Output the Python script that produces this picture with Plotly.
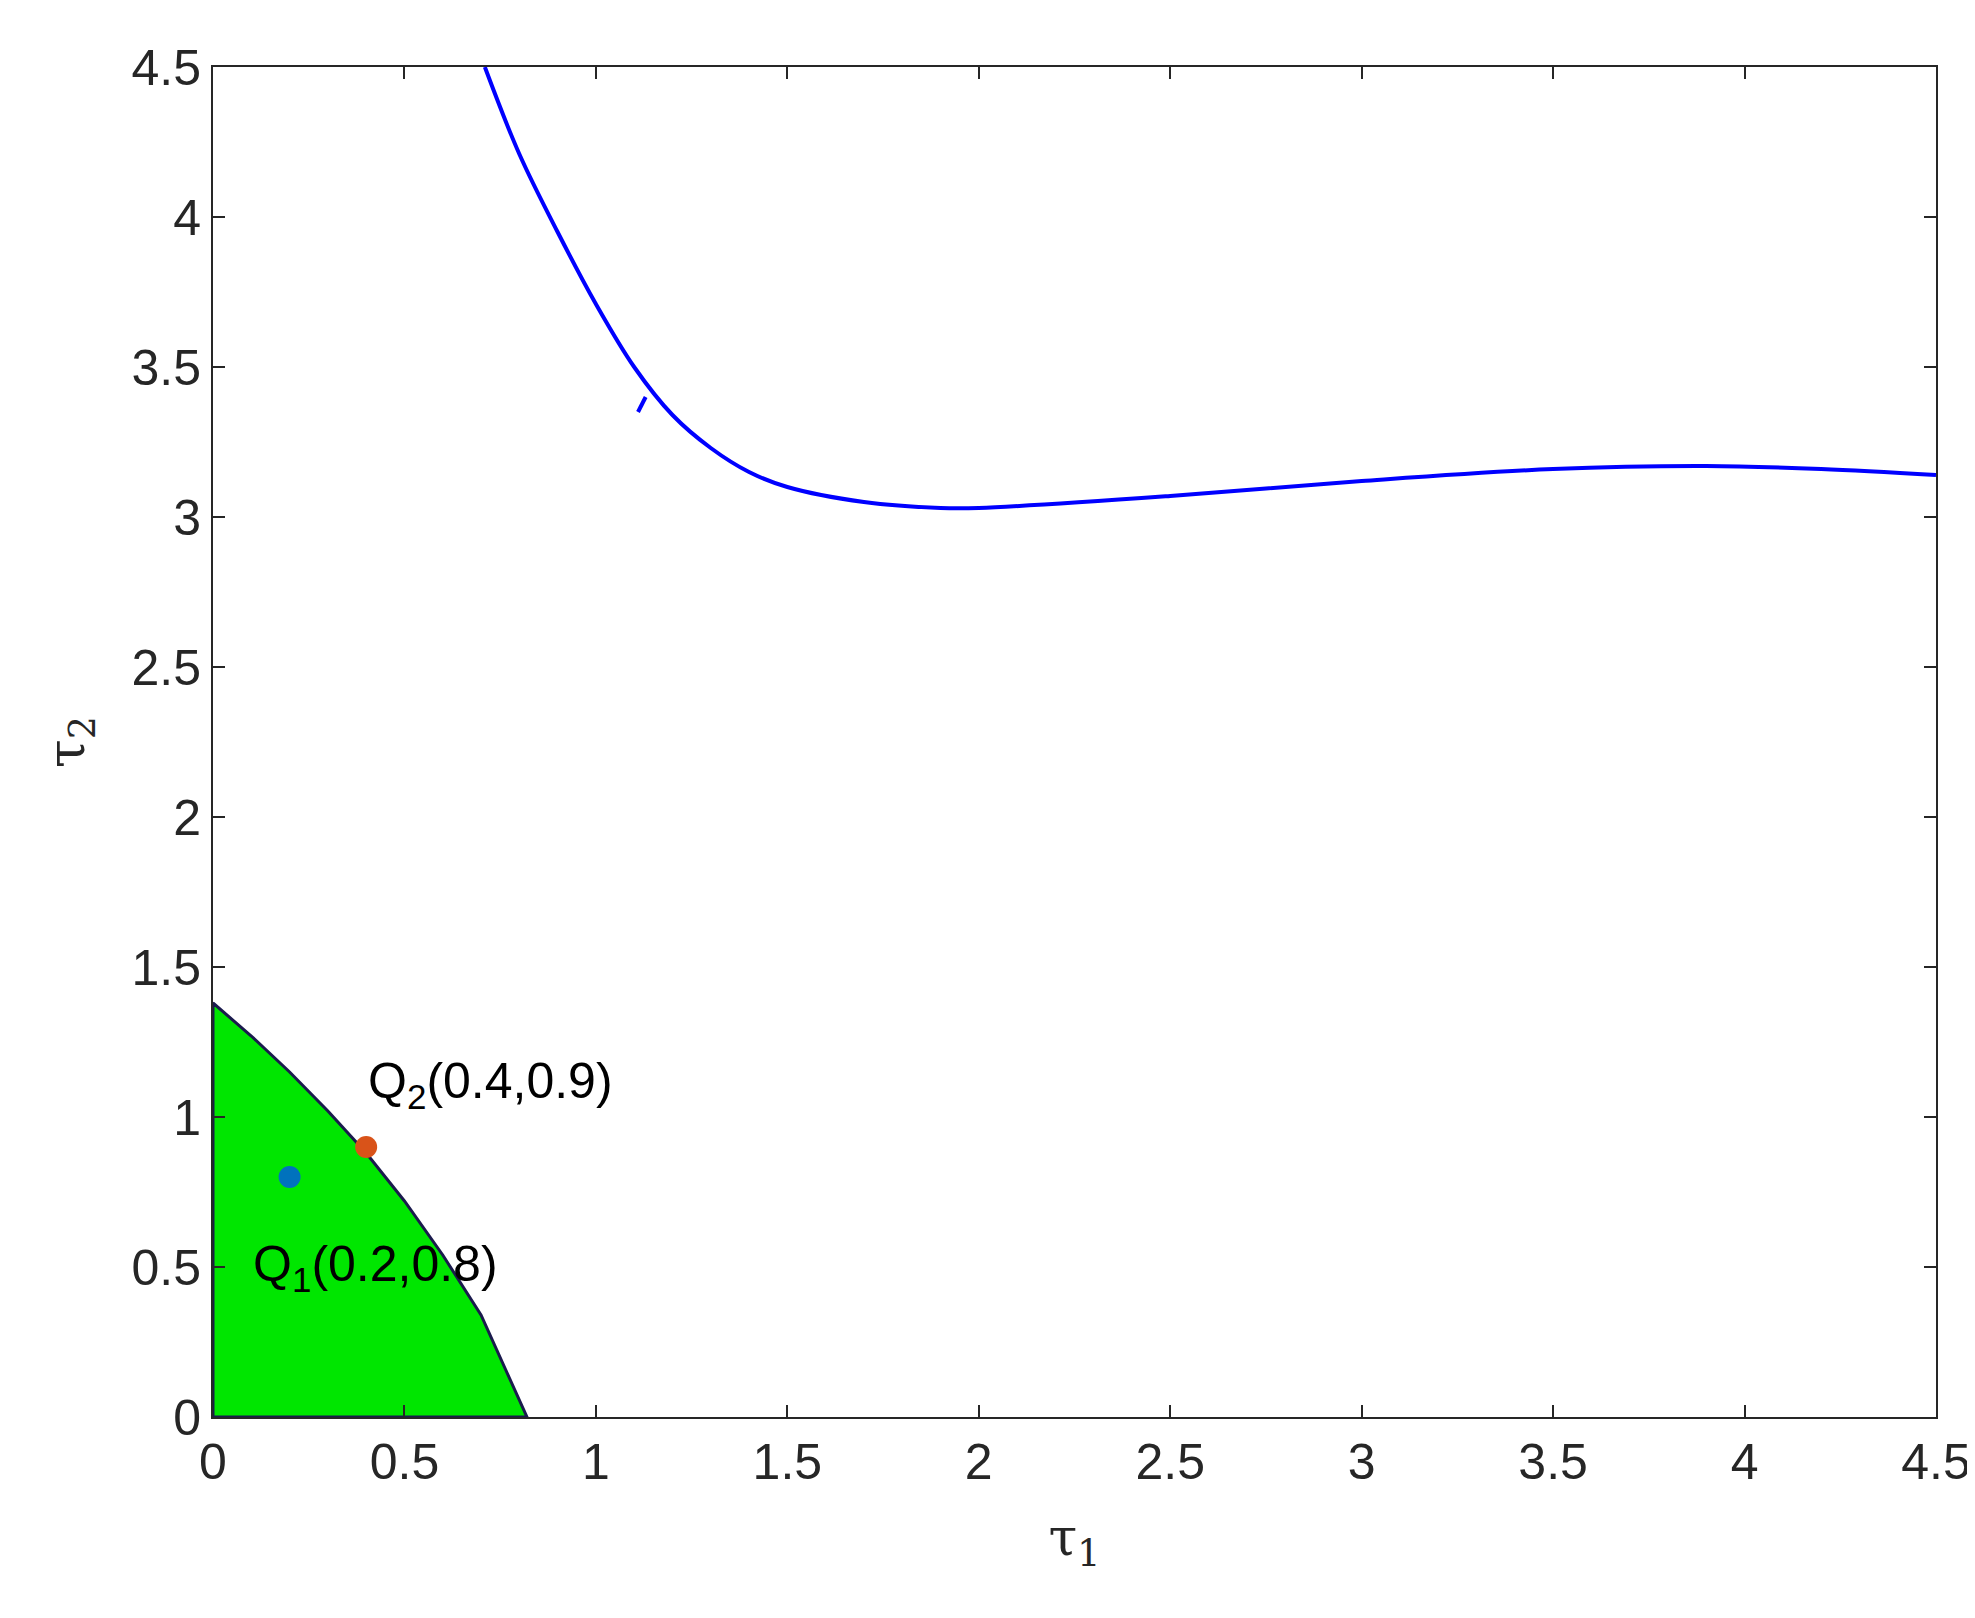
import plotly.graph_objects as go

# upper blue boundary curve
curve_x = [0.71, 0.8, 0.9, 1.0, 1.1, 1.2, 1.3, 1.4, 1.5, 1.7, 1.9, 2.0, 2.5, 3.0, 3.5, 3.9, 4.2, 4.5]
curve_y = [4.5, 4.21, 3.95, 3.71, 3.5, 3.34, 3.23, 3.15, 3.1, 3.05, 3.03, 3.03, 3.07, 3.12, 3.16, 3.17, 3.16, 3.14]
tick_x = [1.11, 1.13]
tick_y = [3.35, 3.40]

# stable (green) region
region_x = [0, 0, 0.1, 0.2, 0.3, 0.4, 0.5, 0.6, 0.7, 0.82, 0]
region_y = [0, 1.38, 1.27, 1.15, 1.02, 0.88, 0.72, 0.54, 0.34, 0, 0]

pts_x = [0.2, 0.4]
pts_y = [0.8, 0.9]
pts_color = ['#0072BD', '#D95319']

ticks = [0, 0.5, 1, 1.5, 2, 2.5, 3, 3.5, 4, 4.5]
tick_text = ['0', '0.5', '1', '1.5', '2', '2.5', '3', '3.5', '4', '4.5']

fig = go.Figure()
fig.add_trace(go.Scatter(x=region_x, y=region_y, fill='toself', fillcolor='#00E600',
                         mode='lines', line=dict(color='#1a1a4d', width=3), showlegend=False))
fig.add_trace(go.Scatter(x=curve_x, y=curve_y, mode='lines', line_shape='spline',
                         line=dict(color='#0000FF', width=4), showlegend=False))
fig.add_trace(go.Scatter(x=tick_x, y=tick_y, mode='lines',
                         line=dict(color='#0000FF', width=4), showlegend=False))
fig.add_trace(go.Scatter(x=pts_x, y=pts_y, mode='markers',
                         marker=dict(color=pts_color, size=22), showlegend=False))

fig.add_annotation(x=0.1, y=0.5, text="Q<sub>1</sub>(0.2,0.8)", showarrow=False,
                   xanchor='left', yanchor='middle', font=dict(size=50, color='black'))
fig.add_annotation(x=0.4, y=1.11, text="Q<sub>2</sub>(0.4,0.9)", showarrow=False,
                   xanchor='left', yanchor='middle', font=dict(size=50, color='black'))

axis = dict(range=[0, 4.5], tickvals=ticks, ticktext=tick_text, showgrid=False, zeroline=False,
            ticks='inside', ticklen=12, tickwidth=2, tickcolor='#262626',
            showline=True, linecolor='#262626', linewidth=2, mirror='allticks',
            tickfont=dict(size=50, color='#262626'))

fig.update_layout(width=1975, height=1618, plot_bgcolor='white', paper_bgcolor='white',
                  font=dict(family='Liberation Sans'),
                  margin=dict(l=205, r=47, t=59, b=209),
                  xaxis=dict(axis, title=dict(text='τ<sub>1</sub>', standoff=30,
                                              font=dict(size=52, family='DejaVu Serif', color='#262626'))),
                  yaxis=dict(axis, title=dict(text='τ<sub>2</sub>', standoff=30,
                                              font=dict(size=52, family='DejaVu Serif', color='#262626'))))

fig.write_html("out.html")
